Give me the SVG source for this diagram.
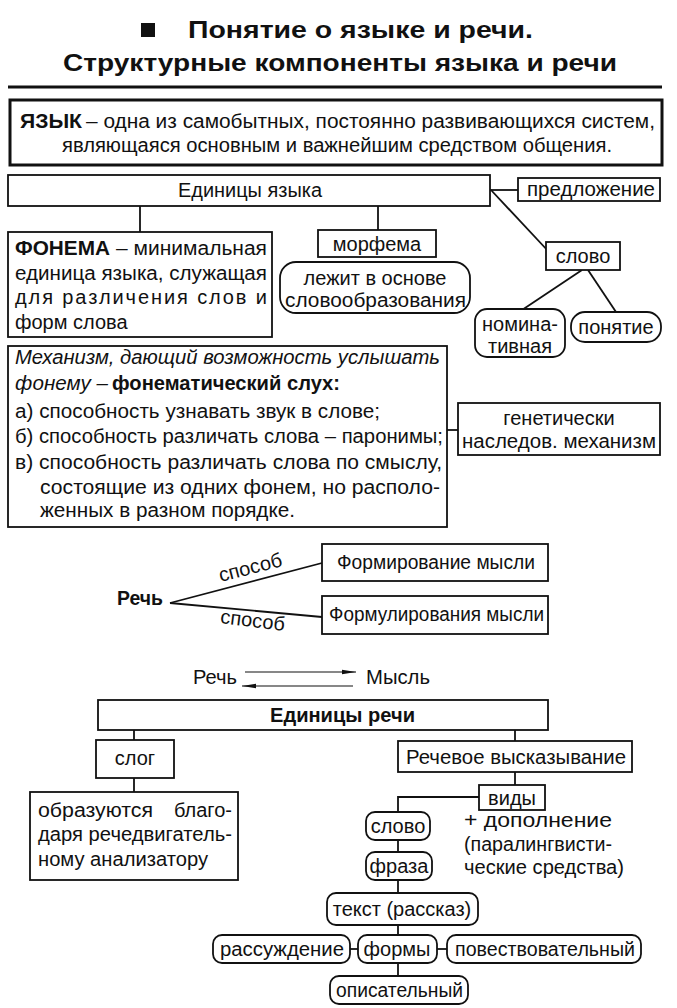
<svg xmlns="http://www.w3.org/2000/svg" width="677" height="1008" viewBox="0 0 677 1008">
<style>
text{font-family:"Liberation Sans",Arial,sans-serif;font-size:20px;fill:#111}
.t{font-size:24px;font-weight:bold}
.b{font-weight:bold}
.i{font-style:italic}
.c{text-anchor:middle}
.e{text-anchor:end}
.box{fill:#fff;stroke:#111;stroke-width:1.8}
.thick{fill:#fff;stroke:#111;stroke-width:3}
.ln{fill:none;stroke:#111;stroke-width:1.8}
.thin{fill:none;stroke:#111;stroke-width:1.2}
</style>
<defs>
<marker id="ah" viewBox="0 0 14 6" refX="14" refY="3" markerWidth="14" markerHeight="6" markerUnits="userSpaceOnUse" orient="auto">
<path d="M0,0.8 L14,3 L0,5.2 Z" fill="#111"/>
</marker>
</defs>
<rect width="677" height="1008" fill="#fff"/>

<g id="title">
<rect x="141" y="23" width="14" height="14" fill="#111"/>
<text class="t" x="188" y="38" textLength="345" lengthAdjust="spacingAndGlyphs">Понятие о языке и речи.</text>
<text class="t" x="63" y="71" textLength="554" lengthAdjust="spacingAndGlyphs">Структурные компоненты языка и речи</text>
<line x1="8" y1="87" x2="662" y2="87" stroke="#111" stroke-width="3"/>
</g>

<g id="connectors">
<line class="ln" x1="140" y1="206" x2="140" y2="232"/>
<line class="ln" x1="378" y1="206" x2="378" y2="230"/>
<line class="ln" x1="490" y1="190" x2="518" y2="190"/>
<line class="ln" x1="491" y1="190" x2="549" y2="252"/>
<line class="ln" x1="582" y1="270" x2="522" y2="310"/>
<line class="ln" x1="588" y1="270" x2="616" y2="312"/>
<line class="ln" x1="447" y1="430" x2="458" y2="430"/>
<line class="ln" x1="170" y1="603" x2="322" y2="563"/>
<line class="ln" x1="170" y1="603" x2="322" y2="617"/>
<line class="thin" x1="245" y1="672" x2="356" y2="672" marker-end="url(#ah)"/>
<line class="thin" x1="353" y1="686" x2="242" y2="686" marker-end="url(#ah)"/>
<line class="ln" x1="134" y1="730" x2="134" y2="740"/>
<line class="ln" x1="134" y1="778" x2="134" y2="792"/>
<line class="ln" x1="515" y1="730" x2="515" y2="741"/>
<line class="ln" x1="515" y1="772" x2="515" y2="785"/>
<polyline class="ln" points="479,797 398,797 398,812"/>
<line class="ln" x1="398" y1="840" x2="398" y2="852"/>
<line class="ln" x1="398" y1="880" x2="398" y2="893"/>
<line class="ln" x1="398" y1="925" x2="398" y2="935"/>
<line class="ln" x1="350" y1="949" x2="358" y2="949"/>
<line class="ln" x1="437" y1="949" x2="447" y2="949"/>
<line class="ln" x1="398" y1="963" x2="398" y2="976"/>
</g>

<g id="yazyk">
<rect class="thick" x="10" y="100" width="652" height="65"/>
<text class="b" x="20" y="128" textLength="62" lengthAdjust="spacingAndGlyphs">ЯЗЫК</text>
<text x="86" y="128" textLength="569" lengthAdjust="spacingAndGlyphs">– одна из самобытных, постоянно развивающихся систем,</text>
<text x="62" y="152" textLength="550" lengthAdjust="spacingAndGlyphs">являющаяся основным и важнейшим средством общения.</text>
</g>

<g id="edinicy-yazyka">
<rect class="box" x="8" y="175" width="482" height="31"/>
<text x="178" y="197" textLength="144" lengthAdjust="spacingAndGlyphs">Единицы языка</text>
</g>

<g id="predlozhenie">
<rect class="box" x="518" y="178" width="142" height="23"/>
<text x="527" y="196" textLength="128" lengthAdjust="spacingAndGlyphs">предложение</text>
</g>

<g id="slovo1">
<rect class="box" x="546" y="242" width="74" height="28"/>
<text class="c" x="583" y="263">слово</text>
</g>

<g id="nominativnaya">
<rect class="box" x="475" y="309" width="90" height="48" rx="12"/>
<text class="c" x="520" y="331">номина-</text>
<text class="c" x="520" y="353">тивная</text>
</g>

<g id="ponyatie">
<rect class="box" x="571" y="312" width="90" height="30" rx="14"/>
<text class="c" x="616" y="334">понятие</text>
</g>

<g id="fonema">
<rect class="box" x="8" y="232" width="264" height="105"/>
<text class="b" x="15" y="255" textLength="95" lengthAdjust="spacingAndGlyphs">ФОНЕМА</text>
<text x="116" y="255" textLength="151" lengthAdjust="spacingAndGlyphs">– минимальная</text>
<text x="15" y="280" textLength="252" lengthAdjust="spacingAndGlyphs">единица языка, служащая</text>
<text x="15" y="304" textLength="252" lengthAdjust="spacing">для различения слов и</text>
<text x="15" y="329">форм слова</text>
</g>

<g id="morfema">
<rect class="box" x="318" y="230" width="118" height="27"/>
<text class="c" x="377" y="251">морфема</text>
</g>

<g id="lezhit">
<rect class="box" x="280" y="262" width="190" height="51" rx="16"/>
<text class="c" x="375" y="285">лежит в основе</text>
<text x="285" y="307" textLength="181" lengthAdjust="spacingAndGlyphs">словообразования</text>
</g>

<g id="mehanizm">
<rect class="box" x="8" y="346" width="439" height="181"/>
<text class="i" x="15" y="364" textLength="425" lengthAdjust="spacingAndGlyphs">Механизм, дающий возможность услышать</text>
<text class="i" x="15" y="390" textLength="93" lengthAdjust="spacingAndGlyphs">фонему –</text>
<text class="b" x="112" y="390" textLength="228" lengthAdjust="spacingAndGlyphs">фонематический слух:</text>
<text x="15" y="418" textLength="365" lengthAdjust="spacingAndGlyphs">а)  способность узнавать звук в слове;</text>
<text x="15" y="443" textLength="428" lengthAdjust="spacingAndGlyphs">б)  способность различать слова – паронимы;</text>
<text x="15" y="469" textLength="427" lengthAdjust="spacingAndGlyphs">в)  способность различать слова по смыслу,</text>
<text x="40" y="494" textLength="400" lengthAdjust="spacingAndGlyphs">состоящие из одних фонем, но располо-</text>
<text x="40" y="517" textLength="255" lengthAdjust="spacingAndGlyphs">женных в разном порядке.</text>
</g>

<g id="geneticheski">
<rect class="box" x="458" y="403" width="202" height="52"/>
<text class="c" x="559" y="425">генетически</text>
<text x="462" y="448" textLength="194" lengthAdjust="spacingAndGlyphs">наследов. механизм</text>
</g>

<g id="rech">
<text class="b" x="117" y="605" textLength="46" lengthAdjust="spacingAndGlyphs">Речь</text>
<text class="c" x="252" y="574" transform="rotate(-14.5 252 574)">способ</text>
<text class="c" x="252" y="627" transform="rotate(7 252 627)">способ</text>
</g>

<g id="formirovanie">
<rect class="box" x="322" y="544" width="226" height="37"/>
<text x="337" y="569" textLength="198" lengthAdjust="spacingAndGlyphs">Формирование мысли</text>
</g>

<g id="formulirovaniya">
<rect class="box" x="322" y="596" width="226" height="38"/>
<text x="329" y="621" textLength="215" lengthAdjust="spacingAndGlyphs">Формулирования мысли</text>
</g>

<g id="rech-mysl">
<text x="193" y="684" textLength="44" lengthAdjust="spacingAndGlyphs">Речь</text>
<text x="366" y="684" textLength="64" lengthAdjust="spacingAndGlyphs">Мысль</text>
</g>

<g id="edinicy-rechi">
<rect class="box" x="98" y="700" width="450" height="30"/>
<text class="b" x="270" y="722" textLength="145" lengthAdjust="spacingAndGlyphs">Единицы речи</text>
</g>

<g id="slog">
<rect class="box" x="96" y="740" width="78" height="38"/>
<text class="c" x="135" y="765">слог</text>
</g>

<g id="obrazuyutsya">
<rect class="box" x="30" y="792" width="208" height="88"/>
<text x="38" y="817" textLength="115" lengthAdjust="spacingAndGlyphs">образуются</text>
<text class="e" x="232" y="817">благо-</text>
<text x="38" y="841" textLength="194" lengthAdjust="spacingAndGlyphs">даря речедвигатель-</text>
<text x="38" y="866" textLength="170" lengthAdjust="spacingAndGlyphs">ному анализатору</text>
</g>

<g id="rechevoe">
<rect class="box" x="398" y="741" width="234" height="31"/>
<text x="406" y="764" textLength="220" lengthAdjust="spacingAndGlyphs">Речевое высказывание</text>
</g>

<g id="vidy">
<rect class="box" x="479" y="785" width="66" height="25"/>
<text class="c" x="512" y="805">виды</text>
</g>

<g id="dopolnenie">
<text x="464" y="827" textLength="148" lengthAdjust="spacingAndGlyphs">+ дополнение</text>
<text x="464" y="851" textLength="148" lengthAdjust="spacingAndGlyphs">(паралингвисти-</text>
<text x="464" y="874" textLength="160" lengthAdjust="spacingAndGlyphs">ческие средства)</text>
</g>

<g id="slovo2">
<rect class="box" x="366" y="812" width="64" height="28" rx="9"/>
<text class="c" x="398" y="833">слово</text>
</g>

<g id="fraza">
<rect class="box" x="366" y="852" width="66" height="28" rx="9"/>
<text class="c" x="399" y="873">фраза</text>
</g>

<g id="tekst">
<rect class="box" x="327" y="893" width="151" height="32" rx="9"/>
<text class="c" x="402" y="916">текст (рассказ)</text>
</g>

<g id="formy">
<rect class="box" x="358" y="935" width="79" height="28" rx="9"/>
<text class="c" x="397" y="956">формы</text>
</g>

<g id="rassuzhdenie">
<rect class="box" x="213" y="935" width="137" height="28" rx="9"/>
<text x="220" y="956" textLength="124" lengthAdjust="spacingAndGlyphs">рассуждение</text>
</g>

<g id="povestvovatelny">
<rect class="box" x="447" y="935" width="194" height="28" rx="9"/>
<text x="455" y="956" textLength="180" lengthAdjust="spacingAndGlyphs">повествовательный</text>
</g>

<g id="opisatelny">
<rect class="box" x="330" y="976" width="138" height="28" rx="9"/>
<text x="336" y="997" textLength="127" lengthAdjust="spacingAndGlyphs">описательный</text>
</g>
</svg>
